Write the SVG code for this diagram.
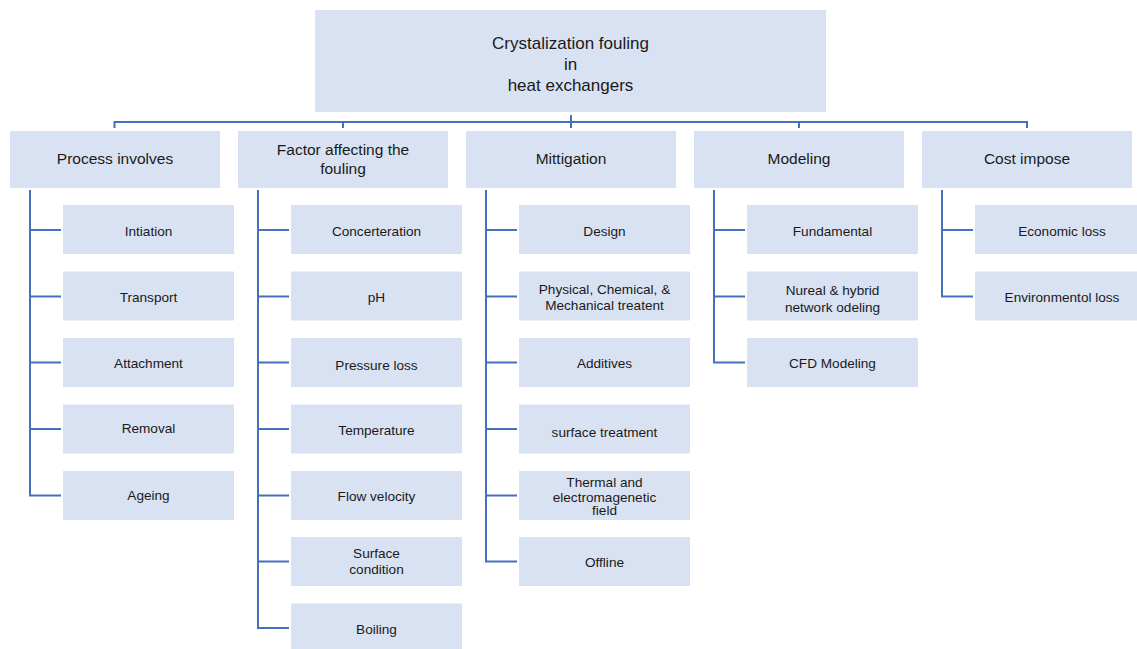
<svg xmlns="http://www.w3.org/2000/svg" width="1137" height="649" viewBox="0 0 1137 649">
<style>
.bx{fill:#d9e2f2}
.t{font-family:"Liberation Sans",Arial,sans-serif;fill:#1a1a1a;text-anchor:middle}
.t0{font-size:17px}
.t1{font-size:15.5px}
.t2{font-size:13.6px}
.ln{fill:none;stroke:#4470bd;stroke-width:2}
</style>
<rect width="1137" height="649" fill="#ffffff"/>
<g id="connectors" class="ln">
<path d="M571 115V128"/>
<path d="M114.5 128V122H1027V128"/>
<path d="M343 122V128"/>
<path d="M799 122V128"/>
<path d="M30 190V495.5H61M30 230H61M30 296.5H61M30 362.5H61M30 429H61"/>
<path d="M258 190V628H289M258 230H289M258 296.5H289M258 362.5H289M258 429H289M258 495.5H289M258 561.5H289"/>
<path d="M486 190V561.5H517M486 230H517M486 296.5H517M486 362.5H517M486 429H517M486 495.5H517"/>
<path d="M714 190V362.5H745M714 230H745M714 296.5H745"/>
<path d="M942 190V296.5H973M942 230H973"/>
</g>
<g id="root"><rect class="bx" x="315" y="10" width="511" height="102"/>
<text class="t t0" x="570.5" y="49">Crystalization fouling</text>
<text class="t t0" x="570.5" y="70">in</text>
<text class="t t0" x="570.5" y="91">heat exchangers</text></g>
<g id="process"><rect class="bx" x="10" y="131" width="210" height="57"/><text class="t t1" x="115" y="164">Process involves</text></g>
<g id="factor"><rect class="bx" x="238" y="131" width="210" height="57"/><text class="t t1" x="343" y="154.5">Factor affecting the</text><text class="t t1" x="343" y="173.5">fouling</text></g>
<g id="mitigation"><rect class="bx" x="466" y="131" width="210" height="57"/><text class="t t1" x="571" y="164">Mittigation</text></g>
<g id="modeling"><rect class="bx" x="694" y="131" width="210" height="57"/><text class="t t1" x="799" y="164">Modeling</text></g>
<g id="cost"><rect class="bx" x="922" y="131" width="210" height="57"/><text class="t t1" x="1027" y="164">Cost impose</text></g>

<g id="p1"><rect class="bx" x="63" y="205" width="171" height="49"/><text class="t t2" x="148.5" y="235.5">Intiation</text></g>
<g id="p2"><rect class="bx" x="63" y="271.5" width="171" height="49"/><text class="t t2" x="148.5" y="302">Transport</text></g>
<g id="p3"><rect class="bx" x="63" y="338" width="171" height="49"/><text class="t t2" x="148.5" y="367.5">Attachment</text></g>
<g id="p4"><rect class="bx" x="63" y="404.5" width="171" height="49"/><text class="t t2" x="148.5" y="433">Removal</text></g>
<g id="p5"><rect class="bx" x="63" y="471" width="171" height="49"/><text class="t t2" x="148.5" y="500">Ageing</text></g>

<g id="f1"><rect class="bx" x="291" y="205" width="171" height="49"/><text class="t t2" x="376.5" y="235.5">Concerteration</text></g>
<g id="f2"><rect class="bx" x="291" y="271.5" width="171" height="49"/><text class="t t2" x="376.5" y="301.5">pH</text></g>
<g id="f3"><rect class="bx" x="291" y="338" width="171" height="49"/><text class="t t2" x="376.5" y="370">Pressure loss</text></g>
<g id="f4"><rect class="bx" x="291" y="404.5" width="171" height="49"/><text class="t t2" x="376.5" y="435">Temperature</text></g>
<g id="f5"><rect class="bx" x="291" y="471" width="171" height="49"/><text class="t t2" x="376.5" y="500.5">Flow velocity</text></g>
<g id="f6"><rect class="bx" x="291" y="537" width="171" height="49"/><text class="t t2" x="376.5" y="558">Surface</text><text class="t t2" x="376.5" y="574">condition</text></g>
<g id="f7"><rect class="bx" x="291" y="603.5" width="171" height="49"/><text class="t t2" x="376.5" y="634">Boiling</text></g>

<g id="m1"><rect class="bx" x="519" y="205" width="171" height="49"/><text class="t t2" x="604.5" y="235.5">Design</text></g>
<g id="m2"><rect class="bx" x="519" y="271.5" width="171" height="49"/><text class="t t2" x="604.5" y="294">Physical, Chemical, &amp;</text><text class="t t2" x="604.5" y="310">Mechanical treatent</text></g>
<g id="m3"><rect class="bx" x="519" y="338" width="171" height="49"/><text class="t t2" x="604.5" y="367.5">Additives</text></g>
<g id="m4"><rect class="bx" x="519" y="404.5" width="171" height="49"/><text class="t t2" x="604.5" y="436.5">surface treatment</text></g>
<g id="m5"><rect class="bx" x="519" y="471" width="171" height="49"/><text class="t t2" x="604.5" y="486.5">Thermal and</text><text class="t t2" x="604.5" y="501.5">electromagenetic</text><text class="t t2" x="604.5" y="515">field</text></g>
<g id="m6"><rect class="bx" x="519" y="537" width="171" height="49"/><text class="t t2" x="604.5" y="566.5">Offline</text></g>

<g id="d1"><rect class="bx" x="747" y="205" width="171" height="49"/><text class="t t2" x="832.5" y="235.5">Fundamental</text></g>
<g id="d2"><rect class="bx" x="747" y="271.5" width="171" height="49"/><text class="t t2" x="832.5" y="295">Nureal &amp; hybrid</text><text class="t t2" x="832.5" y="311.5">network odeling</text></g>
<g id="d3"><rect class="bx" x="747" y="338" width="171" height="49"/><text class="t t2" x="832.5" y="367.5">CFD Modeling</text></g>

<g id="c1"><rect class="bx" x="975" y="205" width="171" height="49"/><text class="t t2" x="1062" y="235.5">Economic loss</text></g>
<g id="c2"><rect class="bx" x="975" y="271.5" width="171" height="49"/><text class="t t2" x="1062" y="302">Environmentol loss</text></g>
</svg>
